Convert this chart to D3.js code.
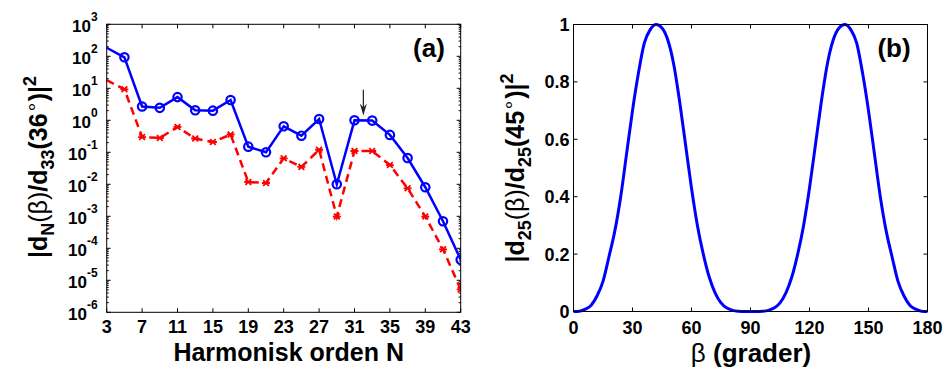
<!DOCTYPE html>
<html>
<head>
  <meta charset="UTF-8">
  <title>Harmonisk orden</title>
  <style>
    body { margin: 0; background: #fff; }
    svg { display: block; font-family: "Liberation Sans", Arial, sans-serif; font-weight: bold; }
    .frame { fill: none; stroke: #000; stroke-width: 1px; }
    .tick { stroke: #000; stroke-width: 1px; }
  </style>
</head>
<body>
  <svg width="943" height="367"></svg>
  <script src="https://d3js.org/d3.v7.min.js"></script>
  <script>
    // panel (a): harmoniske ordener og relative intensiteter
    const harmonics = [3, 5, 7, 9, 11, 13, 15, 17, 19, 21, 23, 25, 27, 29, 31, 33, 35, 37, 39, 41, 43];
    const blueVals = [185, 93, 2.7, 2.45, 5.3, 2.05, 2.0, 4.3, 0.15, 0.10, 0.65, 0.33, 1.1, 0.0100,
                      1.0, 0.98, 0.35, 0.066, 0.0081, 0.0007, 0.000044];
    const redVals = [18, 9.3, 0.30, 0.28, 0.62, 0.27, 0.21, 0.36, 0.0118, 0.011, 0.065, 0.035, 0.12, 0.00098,
                     0.11, 0.11, 0.04, 0.0075, 0.00098, 0.000093, 0.0000052];
    const xTicksA = [3, 7, 11, 15, 19, 23, 27, 31, 35, 39, 43];
    const yExpA = [-6, -5, -4, -3, -2, -1, 0, 1, 2, 3];
    const arrowA = { n: 32, from: 9, to: 1.4 };

    // panel (b): vinkelavhengighet
    const betaDeg = [0, 3, 6, 9, 12, 15, 18, 21, 24, 27, 30, 33, 36, 39, 42, 45, 48, 51, 54, 57, 60,
                     63, 66, 69, 72, 75, 78, 81, 84, 87, 90, 93, 96, 99, 102, 105, 108, 111, 114, 117, 120,
                     123, 126, 129, 132, 135, 138, 141, 144, 147, 150, 153, 156, 159, 162, 165, 168, 171, 174, 177, 180];
    const ratioB = [0, 0.001, 0.008, 0.022, 0.055, 0.105, 0.19, 0.28, 0.40, 0.55, 0.70, 0.83, 0.935, 0.982, 1.0,
                    0.988, 0.945, 0.86, 0.73, 0.58, 0.43, 0.30, 0.20, 0.12, 0.065, 0.03, 0.012, 0.004, 0.001, 0, 0,
                    0, 0.001, 0.004, 0.012, 0.03, 0.065, 0.12, 0.20, 0.30, 0.43, 0.58, 0.73, 0.86, 0.945, 0.988,
                    1.0, 0.982, 0.935, 0.83, 0.70, 0.55, 0.40, 0.28, 0.19, 0.105, 0.055, 0.022, 0.008, 0.001, 0];
    const xTicksB = [0, 30, 60, 90, 120, 150, 180];
    const yTicksB = [0, 0.2, 0.4, 0.6, 0.8, 1];

    const svg = d3.select("svg");

    // ylabel med sub/superskript, rotert
    function yLabel(g, x, y, sub, angle) {
      const t = g.append("text").attr("transform", `translate(${x},${y}) rotate(-90)`).attr("text-anchor", "middle")
        .style("font-size", "25px");
      t.append("tspan").text("|d");
      t.append("tspan").attr("dy", 7).style("font-size", "18px").text(sub);
      t.append("tspan").attr("dy", -7).style("font-weight", "normal").text("(β)");
      t.append("tspan").text("/d");
      t.append("tspan").attr("dy", 7).style("font-size", "18px").text(sub === "N" ? "33" : sub);
      t.append("tspan").attr("dy", -7).text("(" + angle);
      t.append("tspan").attr("dy", -9).style("font-weight", "normal").style("font-size", "19px").text("∘");
      t.append("tspan").attr("dy", 9).text(")|");
      t.append("tspan").attr("dy", -11).style("font-size", "18px").text("2");
    }

    // ---------- panel (a) ----------
    const A = { l: 106.7, r: 460.7, t: 24.3, b: 312.3 };
    const xa = d3.scaleLinear().domain([3, 43]).range([A.l, A.r]);
    const ya = d3.scaleLog().domain([1e-6, 1e3]).range([A.b, A.t]);

    svg.append("clipPath").attr("id", "clipA")
      .append("rect").attr("x", A.l).attr("y", A.t).attr("width", A.r - A.l).attr("height", A.b - A.t);

    const ga = svg.append("g");

    // ticks (inward, both sides)
    xTicksA.forEach(v => {
      ga.append("line").attr("class", "tick").attr("x1", xa(v)).attr("x2", xa(v)).attr("y1", A.b).attr("y2", A.b - 4);
      ga.append("line").attr("class", "tick").attr("x1", xa(v)).attr("x2", xa(v)).attr("y1", A.t).attr("y2", A.t + 4);
      ga.append("text").attr("x", xa(v)).attr("y", 333).attr("text-anchor", "middle")
        .style("font-size", "18px").text(v);
    });
    yExpA.forEach(e => {
      const y = ya(Math.pow(10, e));
      ga.append("line").attr("class", "tick").attr("x1", A.l).attr("x2", A.l + 4).attr("y1", y).attr("y2", y);
      ga.append("line").attr("class", "tick").attr("x1", A.r).attr("x2", A.r - 4).attr("y1", y).attr("y2", y);
      if (e < 3) {
        for (let m = 2; m <= 9; m++) {
          const ym = ya(m * Math.pow(10, e));
          ga.append("line").attr("class", "tick").attr("x1", A.l).attr("x2", A.l + 2).attr("y1", ym).attr("y2", ym);
          ga.append("line").attr("class", "tick").attr("x1", A.r).attr("x2", A.r - 2).attr("y1", ym).attr("y2", ym);
        }
      }
      const t = ga.append("text").attr("x", A.l - 9).attr("y", y + 8).attr("text-anchor", "end");
      t.append("tspan").style("font-size", "17px").text("10");
      t.append("tspan").attr("dy", -11).style("font-size", "12px").text(e < 0 ? "-" + (-e) : e);
    });

    const lineA = d3.line().x((d, i) => xa(harmonics[i])).y(d => ya(d));
    const plotA = ga.append("g").attr("clip-path", "url(#clipA)");
    plotA.append("path").datum(redVals).attr("d", lineA)
      .attr("fill", "none").attr("stroke", "#ff0000").attr("stroke-width", 2.5).attr("stroke-dasharray", "8,5");
    plotA.append("path").datum(blueVals).attr("d", lineA)
      .attr("fill", "none").attr("stroke", "#0000ff").attr("stroke-width", 2.5);

    // asterisk markers (red)
    const s = 4, s2 = s * 0.72;
    const starPath = `M${-s},0L${s},0M${-s2},${-s2}L${s2},${s2}M${-s2},${s2}L${s2},${-s2}`;
    plotA.selectAll(".star").data(redVals.slice(1)).enter().append("path")
      .attr("transform", (d, i) => `translate(${xa(harmonics[i + 1])},${ya(d)})`)
      .attr("d", starPath).attr("stroke", "#ff0000").attr("stroke-width", 1.8).attr("fill", "none");
    // circle markers (blue)
    plotA.selectAll(".circ").data(blueVals.slice(1)).enter().append("circle")
      .attr("cx", (d, i) => xa(harmonics[i + 1])).attr("cy", d => ya(d)).attr("r", 4.2)
      .attr("fill", "none").attr("stroke", "#0000ff").attr("stroke-width", 2.2);

    // pil
    const ax = xa(arrowA.n), ayTip = ya(arrowA.to);
    ga.append("line").attr("x1", ax).attr("x2", ax).attr("y1", ya(arrowA.from)).attr("y2", ayTip - 6)
      .attr("stroke", "#222").attr("stroke-width", 1.2);
    ga.append("path").attr("d", `M${ax - 3.5},${ayTip - 12}L${ax},${ayTip}L${ax + 3.5},${ayTip - 12}L${ax},${ayTip - 8}Z`)
      .attr("fill", "#222");

    ga.append("rect").attr("class", "frame").attr("x", A.l).attr("y", A.t).attr("width", A.r - A.l).attr("height", A.b - A.t);
    ga.append("text").attr("x", 429).attr("y", 57).attr("text-anchor", "middle").style("font-size", "26px").text("(a)");

    ga.append("text").attr("x", (A.l + A.r) / 2 + 5).attr("y", 361).attr("text-anchor", "middle")
      .style("font-size", "25px").text("Harmonisk orden N");

    yLabel(ga, 47, 167, "N", "36");

    // ---------- panel (b) ----------
    const B = { l: 573.5, r: 927.5, t: 24.5, b: 311.5 };
    const xb = d3.scaleLinear().domain([0, 180]).range([B.l, B.r]);
    const yb = d3.scaleLinear().domain([0, 1]).range([B.b, B.t]);
    const gb = svg.append("g");

    xTicksB.forEach(v => {
      gb.append("line").attr("class", "tick").attr("x1", xb(v)).attr("x2", xb(v)).attr("y1", B.b).attr("y2", B.b - 4);
      gb.append("line").attr("class", "tick").attr("x1", xb(v)).attr("x2", xb(v)).attr("y1", B.t).attr("y2", B.t + 4);
      gb.append("text").attr("x", xb(v)).attr("y", 334).attr("text-anchor", "middle")
        .style("font-size", "18px").text(v);
    });
    yTicksB.forEach(v => {
      gb.append("line").attr("class", "tick").attr("x1", B.l).attr("x2", B.l + 4).attr("y1", yb(v)).attr("y2", yb(v));
      gb.append("line").attr("class", "tick").attr("x1", B.r).attr("x2", B.r - 4).attr("y1", yb(v)).attr("y2", yb(v));
      gb.append("text").attr("x", B.l - 4).attr("y", yb(v) + 6.5).attr("text-anchor", "end")
        .style("font-size", "18px").text(v);
    });

    const lineB = d3.line().x((d, i) => xb(betaDeg[i])).y(d => yb(d)).curve(d3.curveMonotoneX);
    gb.append("path").datum(ratioB).attr("d", lineB)
      .attr("fill", "none").attr("stroke", "#0000ff").attr("stroke-width", 3);

    gb.append("rect").attr("class", "frame").attr("x", B.l).attr("y", B.t).attr("width", B.r - B.l).attr("height", B.b - B.t);
    gb.append("text").attr("x", 894).attr("y", 57).attr("text-anchor", "middle").style("font-size", "26px").text("(b)");

    const xlb = gb.append("text").attr("x", 751).attr("y", 362).attr("text-anchor", "middle").style("font-size", "26px");
    xlb.append("tspan").style("font-weight", "normal").text("β");
    xlb.append("tspan").text(" (grader)");

    yLabel(gb, 524, 168, "25", "45");
  </script>
</body>
</html>
